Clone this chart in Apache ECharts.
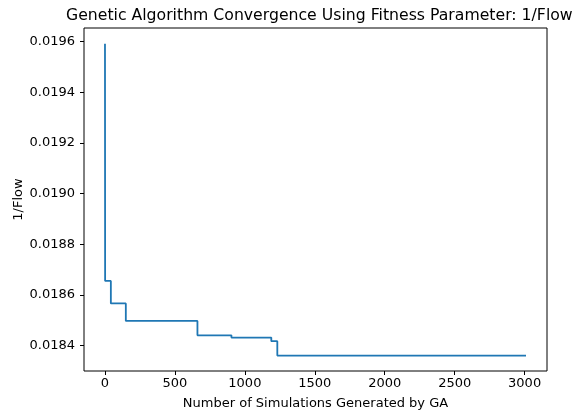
<!DOCTYPE html>
<html>
<head>
<meta charset="utf-8">
<script src="https://cdn.jsdelivr.net/npm/echarts@6/dist/echarts.min.js"></script>
<style>
  html, body { margin: 0; padding: 0; background: #fff; }
  #chart { width: 575px; height: 416px; }
</style>
</head>
<body>
<div id="chart"></div>
<script>
// simulations count where the best fitness changed
const sims = [0, 1, 42, 149, 661, 904, 1189, 1232, 3010];
// best 1/Flow value from that simulation on
const fitness = [0.019592, 0.018655, 0.018566, 0.018497, 0.018440, 0.018431, 0.018417, 0.018360, 0.018360];
const xTicks = [0, 500, 1000, 1500, 2000, 2500, 3000];
const yTicks = [0.0184, 0.0186, 0.0188, 0.0190, 0.0192, 0.0194, 0.0196];

const font = "DejaVu Sans";
const chart = echarts.init(document.getElementById("chart"));

const option = {
  animation: false,
  title: {
    text: "Genetic Algorithm Convergence Using Fitness Parameter: 1/Flow",
    left: 61,
    top: 3,
    textStyle: { fontFamily: font, fontSize: 15.7, fontWeight: "normal", color: "#000" }
  },
  grid: {
    left: 84, right: 28, top: 28, bottom: 45,
    show: true, borderColor: "#000", borderWidth: 1, backgroundColor: "#fff"
  },
  xAxis: {
    type: "value",
    min: -150, max: 3160,
    name: "Number of Simulations Generated by GA",
    nameLocation: "middle",
    nameGap: 26,
    nameMoveOverlap: false,
    nameTextStyle: { fontFamily: font, fontSize: 13, color: "#000" },
    axisLine: { show: false, onZero: false },
    axisTick: { show: true, length: 4, inside: false, customValues: xTicks, lineStyle: { color: "#000" } },
    axisLabel: {
      customValues: xTicks, fontFamily: font, fontSize: 13, color: "#000", margin: 6,
      formatter: v => String(v)
    },
    splitLine: { show: false }
  },
  yAxis: {
    type: "value",
    min: 0.018299, max: 0.019654,
    name: "1/Flow",
    nameLocation: "middle",
    nameGap: 59,
    nameMoveOverlap: false,
    nameTextStyle: { fontFamily: font, fontSize: 13, color: "#000" },
    axisLine: { show: false, onZero: false },
    axisTick: { show: true, length: 4, inside: false, customValues: yTicks, lineStyle: { color: "#000" } },
    axisLabel: {
      customValues: yTicks, fontFamily: font, fontSize: 13, color: "#000", margin: 9,
      formatter: v => v.toFixed(4)
    },
    splitLine: { show: false }
  },
  series: [{
    type: "line",
    step: "end",
    data: sims.map((s, i) => [s, fitness[i]]),
    showSymbol: false,
    lineStyle: { color: "#1f77b4", width: 1.8 }
  }]
};
chart.setOption(option);
</script>
</body>
</html>
